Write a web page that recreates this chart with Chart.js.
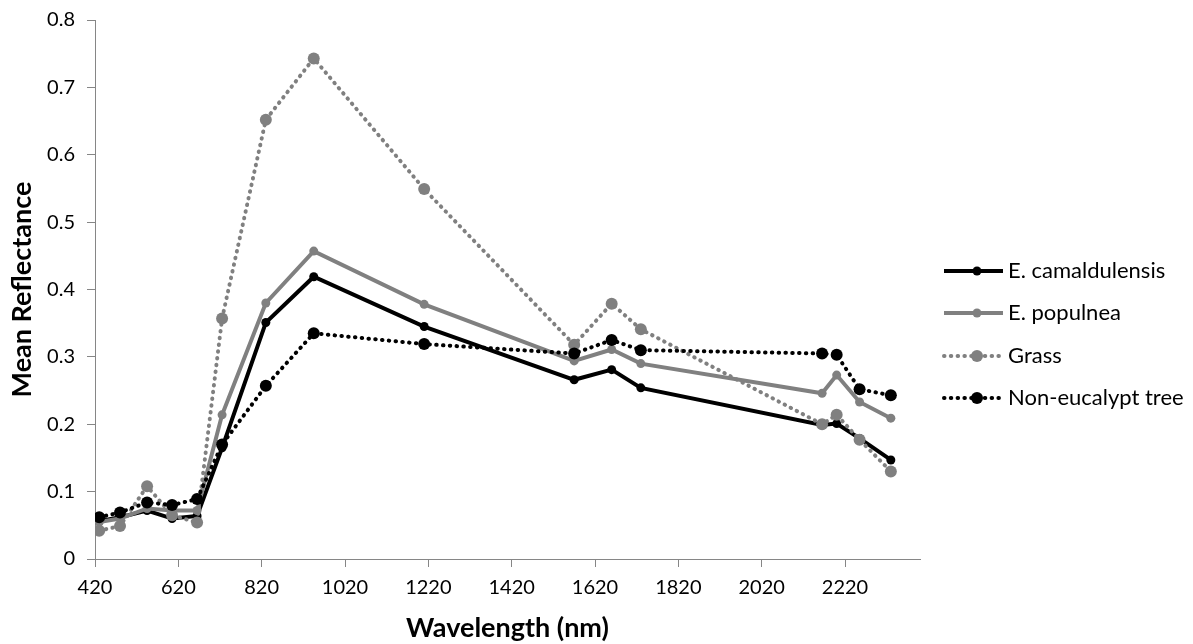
<!DOCTYPE html>
<html>
<head>
<meta charset="utf-8">
<script src="https://cdn.jsdelivr.net/npm/chart.js@4.4.1/dist/chart.umd.min.js"></script>
<style>
  html, body { margin: 0; padding: 0; background: #fff; }
  #wrap { width: 1193px; height: 644px; position: relative; }
</style>
</head>
<body>
<div id="wrap"><canvas id="spectra" width="1193" height="644"></canvas></div>
<script>
// values
var wavelengths = [430, 480, 545, 605, 665, 725, 830, 945, 1210, 1570, 1660, 1730, 2165, 2200, 2255, 2330];
var camaldulensis = [0.056, 0.062, 0.072, 0.060, 0.064, 0.165, 0.351, 0.419, 0.345, 0.266, 0.281, 0.254, 0.199, 0.201, 0.179, 0.147];
var populnea = [0.055, 0.060, 0.075, 0.072, 0.072, 0.214, 0.380, 0.457, 0.378, 0.294, 0.311, 0.290, 0.246, 0.273, 0.233, 0.209];
var grass = [0.042, 0.049, 0.108, 0.065, 0.054, 0.357, 0.652, 0.743, 0.549, 0.318, 0.379, 0.341, 0.200, 0.214, 0.177, 0.130];
var nonEucalypt = [0.062, 0.069, 0.084, 0.080, 0.089, 0.170, 0.257, 0.335, 0.319, 0.305, 0.325, 0.310, 0.305, 0.303, 0.252, 0.243];

var seriesNames = ["E. camaldulensis", "E. populnea", "Grass", "Non-eucalypt tree"];
var xTicks = [420, 620, 820, 1020, 1220, 1420, 1620, 1820, 2020, 2220];

const axisGrey = '#868686';
const dots = [0.5, 6.3];

function pts(vals) {
    return vals.map(function (v, i) { return { x: wavelengths[i], y: v }; });
}

var datasets = [
    { label: seriesNames[0], data: pts(camaldulensis), borderColor: '#000', backgroundColor: '#000',
      borderWidth: 4, pointRadius: 4.5, order: 3 },
    { label: seriesNames[1], data: pts(populnea), borderColor: '#808080', backgroundColor: '#808080',
      borderWidth: 4, pointRadius: 4.5, order: 2 },
    { label: seriesNames[2], data: pts(grass), borderColor: '#808080', backgroundColor: '#808080',
      borderWidth: 4, borderDash: dots, borderCapStyle: 'round', pointRadius: 6, order: 1 },
    { label: seriesNames[3], data: pts(nonEucalypt), borderColor: '#000', backgroundColor: '#000',
      borderWidth: 4, borderDash: dots, borderCapStyle: 'round', pointRadius: 6, order: 0 }
];
datasets.forEach(function (d) {
    d.pointBorderWidth = 0;
    d.pointHoverRadius = d.pointRadius;
    d.tension = 0;
    d.showLine = true;
});

// legend drawn by hand so the line samples keep dash + marker
const sideLegend = {
    id: 'sideLegend',
    afterDraw: function (chart) {
        const ctx = chart.ctx;
        const area = chart.chartArea;
        const x0 = area.right + 24, x1 = area.right + 83, xm = area.right + 57;
        const ys = [271, 313, 356, 398];
        chart.data.datasets.forEach(function (d, i) {
            const y = ys[i];
            ctx.save();
            ctx.strokeStyle = d.borderColor;
            ctx.lineWidth = d.borderWidth;
            ctx.lineCap = d.borderDash ? 'round' : 'butt';
            ctx.setLineDash(d.borderDash || []);
            ctx.beginPath();
            ctx.moveTo(x0, y);
            ctx.lineTo(x1, y);
            ctx.stroke();
            ctx.setLineDash([]);
            ctx.fillStyle = d.backgroundColor;
            ctx.beginPath();
            ctx.arc(xm, y, d.pointRadius, 0, Math.PI * 2);
            ctx.fill();
            ctx.fillStyle = '#000';
            ctx.font = '22px Lato';
            ctx.textBaseline = 'middle';
            ctx.textAlign = 'left';
            ctx.fillText(d.label, x1 + 5, y);
            ctx.restore();
        });
    }
};

new Chart(document.getElementById('spectra'), {
    type: 'scatter',
    data: { datasets: datasets },
    options: {
        responsive: false,
        animation: false,
        layout: { padding: { top: 20, right: 273, left: 0, bottom: 0 } },
        plugins: { legend: { display: false }, tooltip: { enabled: false } },
        scales: {
            x: {
                type: 'linear',
                min: 420,
                max: 2400,
                afterBuildTicks: function (scale) {
                    scale.ticks = xTicks.map(function (v) { return { value: v }; });
                },
                afterFit: function (scale) { scale.height = 85; scale.paddingLeft = 0; scale.paddingRight = 0; },
                grid: { display: true, drawOnChartArea: false, color: axisGrey, tickLength: 8 },
                border: { color: axisGrey, width: 1 },
                ticks: { color: '#000', font: { family: 'Lato', size: 20 }, padding: 9, maxRotation: 0, autoSkip: false,
                         callback: function (v) { return String(v); } },
                title: { display: true, text: 'Wavelength (nm)', color: '#000',
                         font: { family: 'Lato', size: 27, weight: 'bold' }, padding: { top: 0, bottom: 0 } }
            },
            y: {
                min: 0,
                max: 0.8,
                ticks: { stepSize: 0.1, color: '#000', font: { family: 'Lato', size: 20 }, padding: 12 },
                afterFit: function (scale) { scale.width = 95; scale.paddingTop = 0; scale.paddingBottom = 0; },
                grid: { display: true, drawOnChartArea: false, color: axisGrey, tickLength: 8 },
                border: { color: axisGrey, width: 1 },
                title: { display: true, text: 'Mean Reflectance', color: '#000',
                         font: { family: 'Lato', size: 27, weight: 'bold' }, padding: { top: 6, bottom: 0 } }
            }
        }
    },
    plugins: [sideLegend]
});
</script>
</body>
</html>
